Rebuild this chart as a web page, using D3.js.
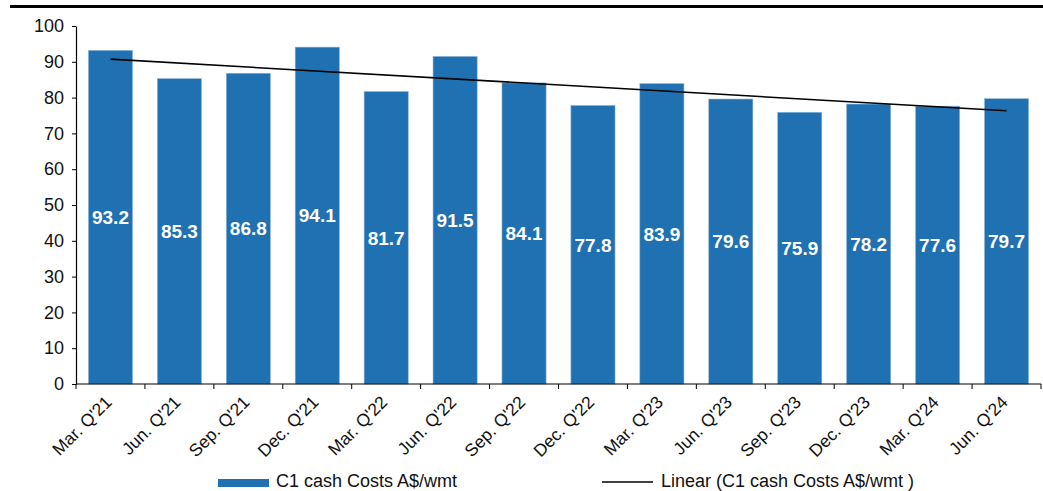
<!DOCTYPE html>
<html>
<head>
<meta charset="utf-8">
<script src="https://cdn.jsdelivr.net/npm/d3@7"></script>
<style>
  body { margin: 0; background: #fff; }
  text { font-family: Arial, "Liberation Sans", sans-serif; }
</style>
</head>
<body>
<div id="main"></div>
<script>
var quarters = ["Mar. Q'21", "Jun. Q'21", "Sep. Q'21", "Dec. Q'21", "Mar. Q'22", "Jun. Q'22", "Sep. Q'22",
  "Dec. Q'22", "Mar. Q'23", "Jun. Q'23", "Sep. Q'23", "Dec. Q'23", "Mar. Q'24", "Jun. Q'24"];
var c1Costs = [93.2, 85.3, 86.8, 94.1, 81.7, 91.5, 84.1, 77.8, 83.9, 79.6, 75.9, 78.2, 77.6, 79.7];
var yTicks = [0, 10, 20, 30, 40, 50, 60, 70, 80, 90, 100];

var margin = { top: 26, right: 2, bottom: 107, left: 76 },
  width = 1043 - margin.left - margin.right,
  height = 491 - margin.top - margin.bottom;

var root = d3.select('#main')
  .append('svg')
  .attr('width', 1043)
  .attr('height', 491);

// heavy rule under the (cropped) figure title
root.append('rect')
  .attr('x', 10).attr('y', 5)
  .attr('width', 1033).attr('height', 3)
  .attr('fill', '#000');

var svg = root.append('g')
  .attr('transform', 'translate(' + margin.left + ',' + margin.top + ')');

var xScale = d3.scaleBand()
  .range([0, width])
  .paddingInner(0.36)
  .paddingOuter(0.18)
  .domain(quarters);

var yScale = d3.scaleLinear()
  .range([height, 0])
  .domain([0, 100]);

var barColor = '#1f71b1';

// bars
svg.selectAll('.bar')
  .data(c1Costs)
  .enter()
  .append('rect')
  .attr('class', 'bar')
  .attr('x', (d, i) => xScale(quarters[i]))
  .attr('y', d => yScale(d))
  .attr('width', xScale.bandwidth())
  .attr('height', d => height - yScale(d))
  .attr('fill', barColor)
  .attr('stroke', '#8fb6d8')
  .attr('stroke-width', 0.6);

// value labels, centred in bar
svg.selectAll('.val')
  .data(c1Costs)
  .enter()
  .append('text')
  .attr('class', 'val')
  .attr('x', (d, i) => xScale(quarters[i]) + xScale.bandwidth() / 2)
  .attr('y', d => yScale(d / 2))
  .attr('dy', '0.36em')
  .attr('text-anchor', 'middle')
  .attr('fill', '#fff')
  .style('font-weight', 'bold')
  .style('font-size', '19px')
  .text(d => d3.format('.1f')(d));

// linear trend (least squares)
var n = c1Costs.length;
var xs = d3.range(n);
var mx = d3.mean(xs), my = d3.mean(c1Costs);
var slope = d3.sum(xs, i => (i - mx) * (c1Costs[i] - my)) / d3.sum(xs, i => (i - mx) * (i - mx));
var icpt = my - slope * mx;
var trend = [0, n - 1].map(i => ({ x: xScale(quarters[i]) + xScale.bandwidth() / 2, y: yScale(icpt + slope * i) }));

svg.append('path')
  .datum(trend)
  .attr('d', d3.line().x(d => d.x).y(d => d.y))
  .attr('fill', 'none')
  .attr('stroke', '#000')
  .attr('stroke-width', 1.6);

// y axis
var yAxis = svg.append('g')
  .call(d3.axisLeft(yScale).tickValues(yTicks).tickSize(4).tickPadding(8).tickSizeOuter(0));
yAxis.select('.domain').attr('stroke', '#000').attr('stroke-width', 1.2);
yAxis.selectAll('text').style('font-size', '18px').attr('fill', '#111');

// x axis with ticks on category boundaries
var xAxis = svg.append('g')
  .attr('transform', 'translate(0,' + height + ')');
xAxis.append('line')
  .attr('x1', 0).attr('x2', width)
  .attr('stroke', '#000').attr('stroke-width', 1.2);
xAxis.selectAll('.tk')
  .data(d3.range(n + 1))
  .enter()
  .append('line')
  .attr('x1', i => i * width / n)
  .attr('x2', i => i * width / n)
  .attr('y1', 0).attr('y2', 5)
  .attr('stroke', '#000');
xAxis.selectAll('.xl')
  .data(quarters)
  .enter()
  .append('text')
  .attr('transform', d => 'translate(' + (xScale(d) + xScale.bandwidth() / 2 - 2) + ',15)rotate(-45)')
  .attr('text-anchor', 'end')
  .attr('dy', '0.35em')
  .style('font-size', '17.5px')
  .attr('fill', '#111')
  .text(d => d);

// legend
var legend = root.append('g');
legend.append('rect')
  .attr('x', 218).attr('y', 479)
  .attr('width', 51).attr('height', 8)
  .attr('fill', barColor);
legend.append('text')
  .attr('x', 276).attr('y', 487)
  .style('font-size', '18px')
  .attr('fill', '#111')
  .text('C1 cash Costs A$/wmt');
legend.append('line')
  .attr('x1', 602).attr('x2', 653)
  .attr('y1', 482).attr('y2', 482)
  .attr('stroke', '#000').attr('stroke-width', 1.6);
legend.append('text')
  .attr('x', 661).attr('y', 487)
  .style('font-size', '18px')
  .attr('fill', '#111')
  .text('Linear (C1 cash Costs A$/wmt )');
</script>
</body>
</html>
